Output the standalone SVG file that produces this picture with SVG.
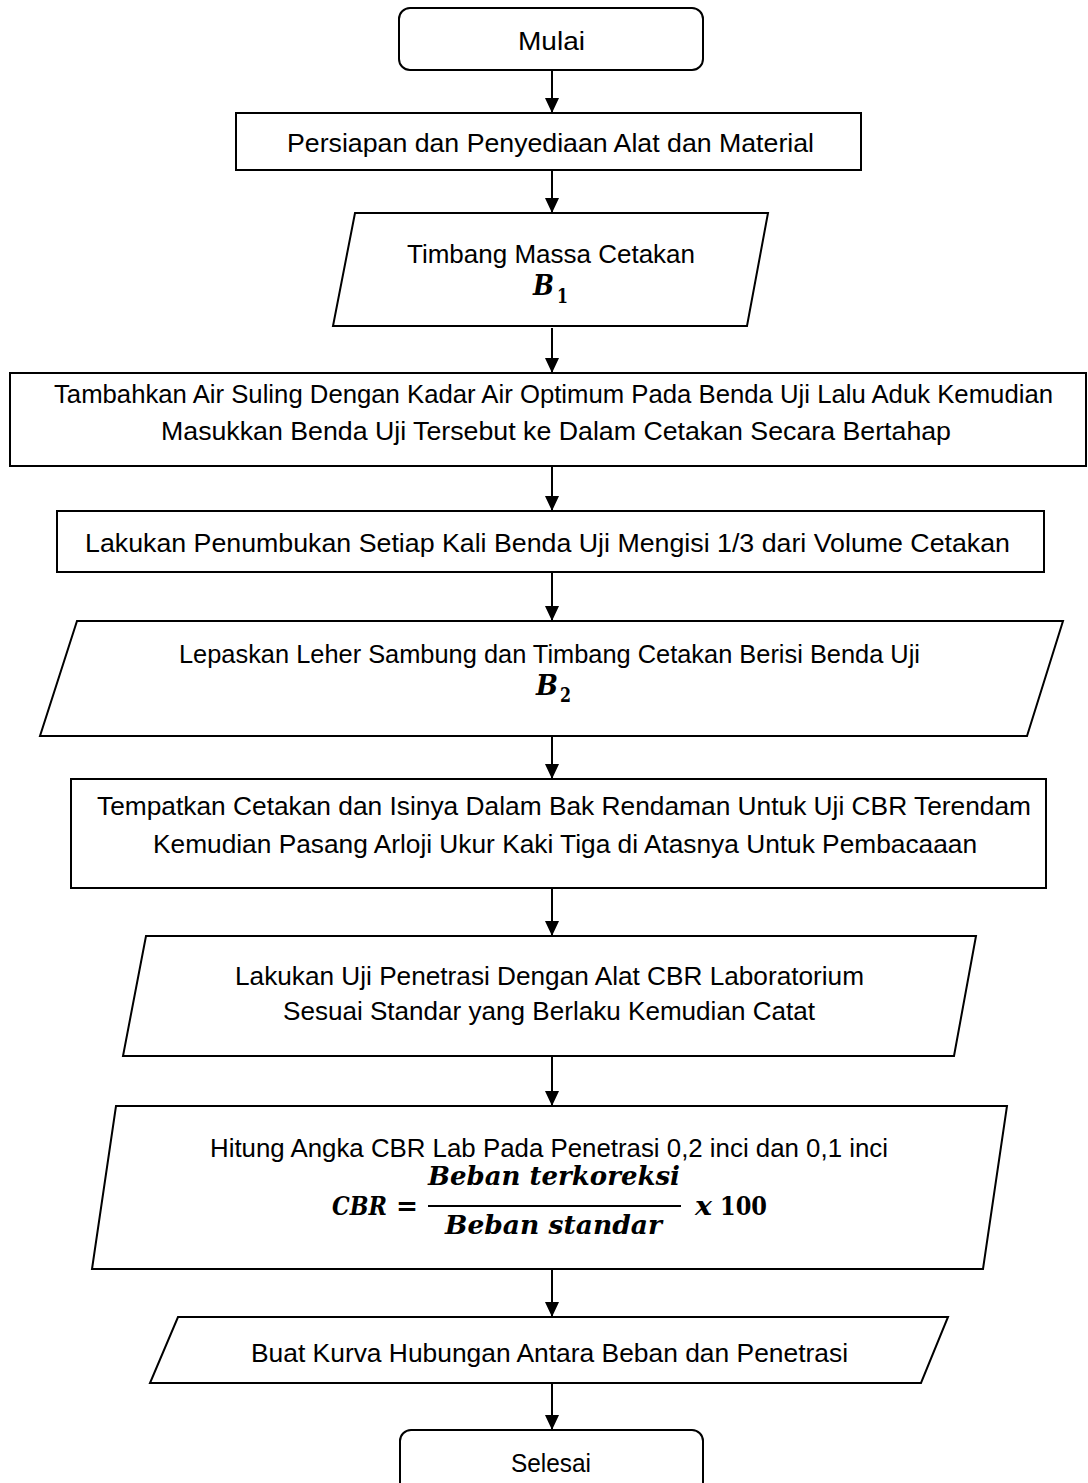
<svg xmlns="http://www.w3.org/2000/svg" width="1088" height="1483" viewBox="0 0 1088 1483">
  <defs>
    <marker id="arrow" markerUnits="userSpaceOnUse" markerWidth="15" markerHeight="14" refX="15" refY="7" orient="auto">
      <path d="M0,0 L15,7 L0,14 Z" fill="#000"/>
    </marker>
    <style>
      .shape { fill: #fff; stroke: #000; stroke-width: 2; }
      .link { fill: none; stroke: #000; stroke-width: 2; marker-end: url(#arrow); }
      .lbl { font-family: "Liberation Sans", Arial, sans-serif; font-size: 25px; fill: #000; }
      .math { font-family: "DejaVu Serif", "Liberation Serif", serif; font-weight: bold; font-style: italic; fill: #000; }
      .num { font-family: "DejaVu Serif", "Liberation Serif", serif; font-weight: bold; font-style: normal; fill: #000; }
    </style>
  </defs>

  <rect width="1088" height="1483" fill="#fff"/>

  <!-- connectors -->
  <g id="connectors">
    <line class="link" x1="552" y1="70" x2="552" y2="113"/>
    <line class="link" x1="552" y1="170" x2="552" y2="213"/>
    <line class="link" x1="552" y1="328" x2="552" y2="373"/>
    <line class="link" x1="552" y1="466" x2="552" y2="511"/>
    <line class="link" x1="552" y1="572" x2="552" y2="621"/>
    <line class="link" x1="552" y1="736" x2="552" y2="779"/>
    <line class="link" x1="552" y1="888" x2="552" y2="936"/>
    <line class="link" x1="552" y1="1056" x2="552" y2="1106"/>
    <line class="link" x1="552" y1="1269" x2="552" y2="1317"/>
    <line class="link" x1="552" y1="1383" x2="552" y2="1430"/>
  </g>

  <g id="start">
    <rect class="shape" x="399" y="8" width="304" height="62" rx="11"/>
    <text class="lbl" x="518" y="50" textLength="67" lengthAdjust="spacingAndGlyphs">Mulai</text>
  </g>

  <g id="prepare">
    <rect class="shape" x="236" y="113" width="625" height="57"/>
    <text class="lbl" x="287" y="152" textLength="527" lengthAdjust="spacingAndGlyphs">Persiapan dan Penyediaan Alat dan Material</text>
  </g>

  <g id="weigh-mould">
    <polygon class="shape" points="355,213 768,213 747,326 333,326"/>
    <text class="lbl" x="407" y="263" textLength="288" lengthAdjust="spacingAndGlyphs">Timbang Massa Cetakan</text>
    <text class="math" x="533" y="295" font-size="28" textLength="21" lengthAdjust="spacingAndGlyphs">B</text>
    <text class="num" x="557" y="303" font-size="20" textLength="11" lengthAdjust="spacingAndGlyphs">1</text>
  </g>

  <g id="add-water">
    <rect class="shape" x="10" y="373" width="1076" height="93"/>
    <text class="lbl" x="54" y="403" textLength="999" lengthAdjust="spacingAndGlyphs">Tambahkan Air Suling Dengan Kadar Air Optimum Pada Benda Uji Lalu Aduk Kemudian</text>
    <text class="lbl" x="161" y="440" textLength="790" lengthAdjust="spacingAndGlyphs">Masukkan Benda Uji Tersebut ke Dalam Cetakan Secara Bertahap</text>
  </g>

  <g id="compact">
    <rect class="shape" x="57" y="511" width="987" height="61"/>
    <text class="lbl" x="85" y="552" textLength="925" lengthAdjust="spacingAndGlyphs">Lakukan Penumbukan Setiap Kali Benda Uji Mengisi 1/3 dari Volume Cetakan</text>
  </g>

  <g id="weigh-filled">
    <polygon class="shape" points="77,621 1063,621 1027,736 40,736"/>
    <text class="lbl" x="179" y="663" textLength="741" lengthAdjust="spacingAndGlyphs">Lepaskan Leher Sambung dan Timbang Cetakan Berisi Benda Uji</text>
    <text class="math" x="536" y="695" font-size="28" textLength="22" lengthAdjust="spacingAndGlyphs">B</text>
    <text class="num" x="560" y="702" font-size="20" textLength="11" lengthAdjust="spacingAndGlyphs">2</text>
  </g>

  <g id="soak">
    <rect class="shape" x="71" y="779" width="975" height="109"/>
    <text class="lbl" x="97" y="815" textLength="934" lengthAdjust="spacingAndGlyphs">Tempatkan Cetakan dan Isinya Dalam Bak Rendaman Untuk Uji CBR Terendam</text>
    <text class="lbl" x="153" y="853" textLength="824" lengthAdjust="spacingAndGlyphs">Kemudian Pasang Arloji Ukur Kaki Tiga di Atasnya Untuk Pembacaaan</text>
  </g>

  <g id="penetration">
    <polygon class="shape" points="146,936 976,936 954,1056 123,1056"/>
    <text class="lbl" x="235" y="985" textLength="629" lengthAdjust="spacingAndGlyphs">Lakukan Uji Penetrasi Dengan Alat CBR Laboratorium</text>
    <text class="lbl" x="283" y="1020" textLength="532" lengthAdjust="spacingAndGlyphs">Sesuai Standar yang Berlaku Kemudian Catat</text>
  </g>

  <g id="compute-cbr">
    <polygon class="shape" points="116,1106 1007,1106 983,1269 92,1269"/>
    <text class="lbl" x="210" y="1157" textLength="678" lengthAdjust="spacingAndGlyphs">Hitung Angka CBR Lab Pada Penetrasi 0,2 inci dan 0,1 inci</text>
    <text class="math" x="332" y="1215" font-size="26" textLength="55" lengthAdjust="spacingAndGlyphs">CBR</text>
    <text class="num" x="396" y="1215" font-size="26" textLength="22" lengthAdjust="spacingAndGlyphs">=</text>
    <text class="math" x="428" y="1185" font-size="26" textLength="252" lengthAdjust="spacingAndGlyphs">Beban terkoreksi</text>
    <line x1="428" y1="1206" x2="681" y2="1206" stroke="#000" stroke-width="2"/>
    <text class="math" x="445" y="1234" font-size="26" textLength="217" lengthAdjust="spacingAndGlyphs">Beban standar</text>
    <text class="math" x="695" y="1215" font-size="26" textLength="17" lengthAdjust="spacingAndGlyphs">x</text>
    <text class="num" x="720" y="1215" font-size="26" textLength="47" lengthAdjust="spacingAndGlyphs">100</text>
  </g>

  <g id="plot-curve">
    <polygon class="shape" points="178,1317 948,1317 921,1383 150,1383"/>
    <text class="lbl" x="251" y="1362" textLength="597" lengthAdjust="spacingAndGlyphs">Buat Kurva Hubungan Antara Beban dan Penetrasi</text>
  </g>

  <g id="end">
    <rect class="shape" x="400" y="1430" width="303" height="64" rx="11"/>
    <text class="lbl" x="511" y="1472" textLength="80" lengthAdjust="spacingAndGlyphs">Selesai</text>
  </g>
</svg>
